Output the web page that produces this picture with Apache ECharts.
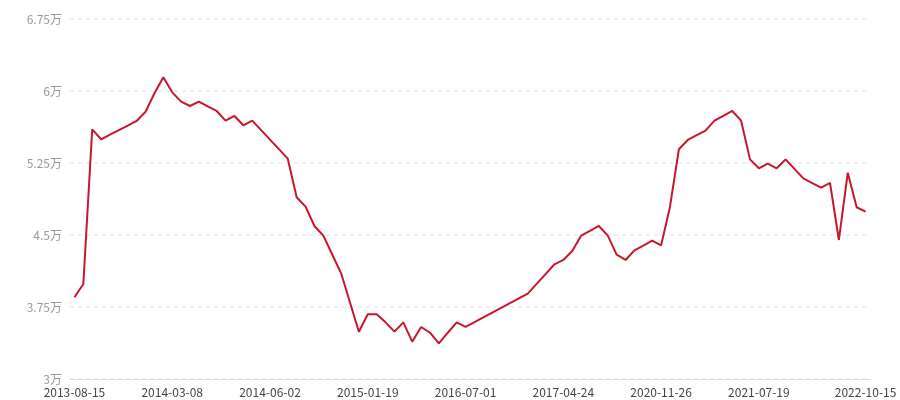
<!DOCTYPE html>
<html><head><meta charset="utf-8">
<script src="https://cdn.jsdelivr.net/npm/echarts@6/dist/echarts.min.js"></script>
<style>html,body{margin:0;padding:0;background:#fff}#c{width:900px;height:400px}</style>
</head><body><div id="c"></div>
<script>
const dates = [
'2013-08-15','2013-09-02','2013-09-21','2013-10-09','2013-10-28','2013-11-15','2013-12-04','2013-12-22','2014-01-10','2014-01-29','2014-02-17',
'2014-03-08','2014-03-16','2014-03-24','2014-03-31','2014-04-08','2014-04-16','2014-04-24','2014-05-01','2014-05-09','2014-05-17','2014-05-25',
'2014-06-02','2014-06-23','2014-07-14','2014-08-04','2014-08-25','2014-09-15','2014-10-06','2014-10-27','2014-11-17','2014-12-08','2014-12-29',
'2015-01-19','2015-03-08','2015-04-25','2015-06-12','2015-07-30','2015-09-16','2015-11-03','2015-12-21','2016-02-07','2016-03-26','2016-05-13',
'2016-07-01','2016-07-28','2016-08-24','2016-09-20','2016-10-17','2016-11-13','2016-12-10','2017-01-06','2017-02-02','2017-03-01','2017-03-28',
'2017-04-24','2017-08-21','2017-12-18','2018-04-16','2018-08-13','2018-12-10','2019-04-08','2019-08-05','2019-12-02','2020-03-30','2020-07-27',
'2020-11-26','2020-12-17','2021-01-07','2021-01-28','2021-02-18','2021-03-11','2021-04-01','2021-04-22','2021-05-13','2021-06-03','2021-06-24',
'2021-07-19','2021-08-26','2021-10-03','2021-11-10','2021-12-18','2022-01-25','2022-03-04','2022-04-11','2022-05-19','2022-06-26','2022-08-03',
'2022-09-10','2022-10-15'
];
const prices = [
38510,39900,56010,54970,55450,55930,56400,56880,57840,59760,61430,
59860,58890,58440,58890,58400,57920,56910,57400,56430,56910,55920,
54930,53940,52950,48930,47950,45940,44930,42970,41010,37970,34930,
36740,36740,35900,34930,35900,33890,35420,34820,33720,34820,35900,
35420,35920,36410,36910,37400,37900,38390,38890,39910,40930,41950,
42400,43330,44930,45430,45940,44930,42950,42400,43400,43900,44410,
43920,47950,53930,54900,55400,55870,56910,57410,57920,56910,52880,
51950,52430,51950,52880,51890,50900,50400,49930,50420,44480,51490,
47890,47430
];
const yMin = 30000, yMax = 67500, yStep = 7500;

const last = dates.length - 1;
const showAt = i => (i % 11 === 0 && i <= last - 11) || i === last;

const chart = echarts.init(document.getElementById('c'));
chart.setOption({
  animation: false,
  grid: {left: 70, right: 30, top: 19, bottom: 21, containLabel: false},
  xAxis: {
    type: 'category',
    data: dates,
    boundaryGap: true,
    axisLine: {lineStyle: {color: '#dcdcdc'}},
    axisTick: {alignWithLabel: true, interval: (i) => showAt(i), length: 4, lineStyle: {color: '#dcdcdc'}},
    axisLabel: {interval: (i) => showAt(i), color: '#444', fontSize: 12, margin: 7, fontFamily: 'Noto Sans CJK SC, sans-serif'}
  },
  yAxis: {
    type: 'value',
    min: yMin, max: yMax, interval: yStep,
    axisLine: {show: false},
    axisTick: {show: false},
    axisLabel: {
      color: '#999', fontSize: 12, margin: 8, fontFamily: 'Noto Sans CJK SC, sans-serif',
      formatter: v => (v / 10000) + '万'
    },
    splitLine: {lineStyle: {color: '#ececec', type: [4, 4], width: 1.5}}
  },
  series: [{
    type: 'line',
    data: prices,
    showSymbol: false,
    symbol: 'none',
    lineStyle: {color: '#c8162c', width: 2},
    itemStyle: {color: '#c8162c'}
  }]
});
</script></body></html>
